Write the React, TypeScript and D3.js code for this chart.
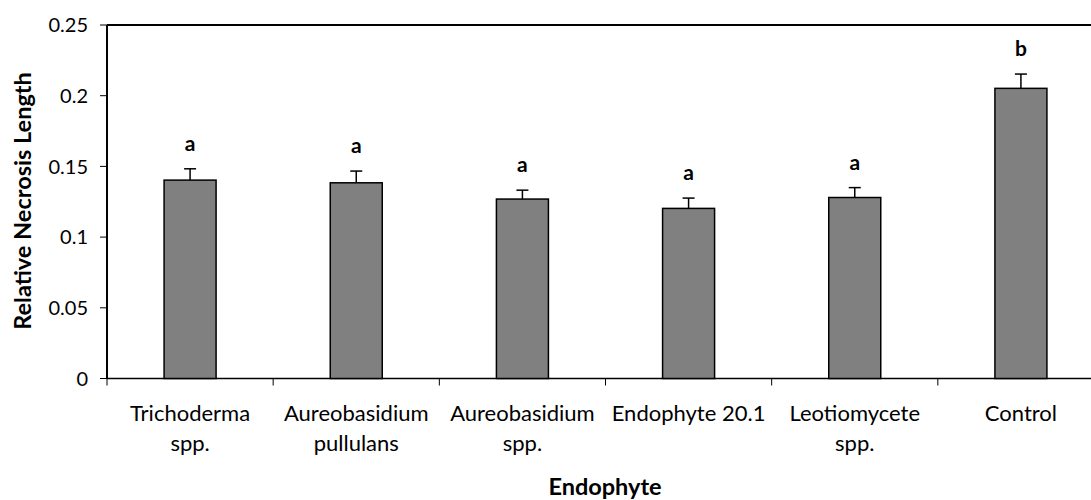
import React from "react";
import * as d3 from "d3";

const categories: string[][] = [
  ["Trichoderma", "spp."],
  ["Aureobasidium", "pullulans"],
  ["Aureobasidium", "spp."],
  ["Endophyte 20.1"],
  ["Leotiomycete", "spp."],
  ["Control"],
];
const means = [0.1403, 0.1384, 0.1269, 0.1203, 0.128, 0.2052];
const errors = [0.008, 0.0083, 0.0063, 0.0073, 0.007, 0.0101];
const letters = ["a", "a", "a", "a", "a", "b"];
const yTicks = [0, 0.05, 0.1, 0.15, 0.2, 0.25];
const yTickLabels = ["0", "0.05", "0.1", "0.15", "0.2", "0.25"];

const W = 1091;
const H = 500;
const left = 107;
const right = 1104;
const top = 25;
const bottom = 378.5;
const font = "Lato, 'Open Sans', sans-serif";

export default function App() {
  const x = d3
    .scaleBand<number>()
    .domain(categories.map((_, i) => i))
    .range([left, right])
    .paddingInner(0)
    .paddingOuter(0);
  const y = d3.scaleLinear().domain([0, 0.25]).range([bottom, top]);
  const bw = 52;
  const boundaries = d3.range(categories.length + 1).map((i) => left + i * x.step());

  return (
    <svg
      width={W}
      height={H}
      style={{ position: "absolute", left: 0, top: 0, background: "#fff" }}
      fontFamily={font}
    >
      {/* frame */}
      <line x1={left} x2={W + 20} y1={top} y2={top} stroke="#000" strokeWidth={2} />
      <line x1={left} x2={left} y1={top} y2={bottom} stroke="#000" strokeWidth={2} />
      <line x1={left} x2={W + 20} y1={bottom} y2={bottom} stroke="#000" strokeWidth={1.5} />

      {/* y ticks */}
      {yTicks.map((t, i) => (
        <g key={"yt" + i}>
          <line x1={100} x2={left} y1={y(t)} y2={y(t)} stroke="#000" strokeWidth={1} />
          <text x={88} y={y(t)} dy="0.36em" textAnchor="end" fontSize={20} fill="#000">
            {yTickLabels[i]}
          </text>
        </g>
      ))}

      {/* x ticks */}
      {boundaries.map((b, i) => (
        <line key={"xt" + i} x1={b} x2={b} y1={bottom} y2={bottom + 7} stroke="#000" strokeWidth={1} />
      ))}

      {/* bars */}
      {means.map((m, i) => {
        const cx = (x(i) as number) + x.bandwidth() / 2;
        const yTop = y(m + errors[i]);
        return (
          <g key={"b" + i}>
            <rect
              x={cx - bw / 2}
              y={y(m)}
              width={bw}
              height={bottom - y(m)}
              fill="#808080"
              stroke="#000"
              strokeWidth={1.5}
            />
            <line x1={cx} x2={cx} y1={y(m)} y2={yTop} stroke="#000" strokeWidth={1.5} />
            <line x1={cx - 6} x2={cx + 6} y1={yTop} y2={yTop} stroke="#000" strokeWidth={1.5} />
            <text
              x={cx}
              y={yTop - 18}
              textAnchor="middle"
              fontSize={21}
              fontWeight="bold"
              fill="#000"
            >
              {letters[i]}
            </text>
          </g>
        );
      })}

      {/* x labels */}
      {categories.map((lines, i) => {
        const cx = (x(i) as number) + x.bandwidth() / 2;
        return (
          <text key={"xl" + i} textAnchor="middle" fontSize={22} fill="#000">
            {lines.map((l, j) => (
              <tspan key={j} x={cx} y={420.5 + j * 30}>
                {l}
              </tspan>
            ))}
          </text>
        );
      })}

      {/* axis titles */}
      <text x={605} y={495} textAnchor="middle" fontSize={23.5} fontWeight="bold" fill="#000">
        Endophyte
      </text>
      <text
        transform={`translate(31,201) rotate(-90)`}
        textAnchor="middle"
        fontSize={23.5}
        fontWeight="bold"
        fill="#000"
      >
        Relative Necrosis Length
      </text>
    </svg>
  );
}
